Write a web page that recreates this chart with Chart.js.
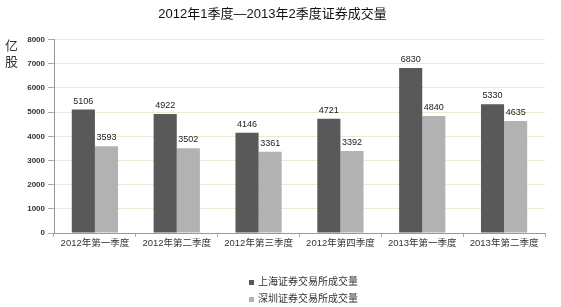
<!DOCTYPE html>
<html><head><meta charset="utf-8">
<script src="https://cdn.jsdelivr.net/npm/chart.js@4"></script>
<style>
html,body{margin:0;padding:0;background:#fff;}
#wrap{position:relative;width:561px;height:307px;font-family:"Liberation Sans","Noto Sans CJK SC",sans-serif;}
#unit{position:absolute;left:5px;top:38px;font-size:13px;line-height:16px;color:#333;width:14px;}
#legend{position:absolute;left:249px;top:273px;font-size:10px;color:#333;}
#legend div{height:17px;line-height:17px;}
#legend span.box{display:inline-block;width:5px;height:5px;margin-right:4px;vertical-align:middle;}
</style></head>
<body>
<div id="wrap">
<canvas id="c" width="561" height="307"></canvas>
<div id="unit">亿<br>股</div>
<div id="legend"></div>
</div>
<script>
const categories = ['2012年第一季度','2012年第二季度','2012年第三季度','2012年第四季度','2013年第一季度','2013年第二季度'];
const shanghai = [5106, 4922, 4146, 4721, 6830, 5330];
const shenzhen = [3593, 3502, 3361, 3392, 4840, 4635];
const seriesNames = ['上海证券交易所成交量','深圳证券交易所成交量'];
const seriesColors = ['#595959','#b2b2b2'];
const yTicks = [0,1000,2000,3000,4000,5000,6000,7000,8000];
const titleText = '2012年1季度—2013年2季度证券成交量';

const FONT = '"Liberation Sans","Noto Sans CJK SC",sans-serif';

const labelPlugin = {
  id:'barLabels',
  afterDatasetsDraw(chart){
    const ctx = chart.ctx;
    ctx.save();
    ctx.font = '9px ' + FONT;
    ctx.fillStyle = '#222';
    ctx.textAlign = 'center';
    ctx.textBaseline = 'bottom';
    chart.data.datasets.forEach((ds, di) => {
      const meta = chart.getDatasetMeta(di);
      meta.data.forEach((bar, i) => {
        ctx.fillText(String(ds.data[i]), bar.x, bar.y - 4);
      });
    });
    ctx.restore();
  }
};

new Chart(document.getElementById('c'), {
  type:'bar',
  data:{
    labels: categories,
    datasets:[
      {label: seriesNames[0], data: shanghai, backgroundColor: seriesColors[0]},
      {label: seriesNames[1], data: shenzhen, backgroundColor: seriesColors[1]}
    ]
  },
  options:{
    responsive:false,
    animation:false,
    layout:{padding:{left:0,right:16,top:0,bottom:56}},
    datasets:{bar:{categoryPercentage:0.565, barPercentage:1.0}},
    plugins:{
      legend:{display:false},
      tooltip:{enabled:false},
      title:{display:true,text:titleText,color:'#111',font:{family:FONT,size:13,weight:'normal'},padding:{top:7,bottom:17}}
    },
    scales:{
      x:{
        grid:{display:true,drawOnChartArea:false,drawTicks:true,tickLength:4,color:'#aaa',offset:true},
        border:{display:true,color:'#999'},
        ticks:{color:'#333',font:{family:FONT,size:9.5},padding:1,maxRotation:0,autoSkip:false},
        afterFit(s){ s.height = 18; }
      },
      y:{
        min:0,max:8000,
        afterBuildTicks(s){ s.ticks = yTicks.map(v=>({value:v})); },
        grid:{color:'#efe6d3',drawTicks:true,tickLength:6,tickColor:'#aaa'},
        border:{display:true,color:'#999'},
        ticks:{color:'#333',font:{family:FONT,size:8,weight:'bold'},padding:3,callback:(v)=>String(v)},
        afterFit(s){ s.width = 54; }
      }
    }
  },
  plugins:[labelPlugin]
});

const lg = document.getElementById('legend');
seriesNames.forEach((n,i)=>{
  const d = document.createElement('div');
  const b = document.createElement('span'); b.className='box'; b.style.background = seriesColors[i];
  d.appendChild(b); d.appendChild(document.createTextNode(n));
  lg.appendChild(d);
});
</script>
</body></html>
